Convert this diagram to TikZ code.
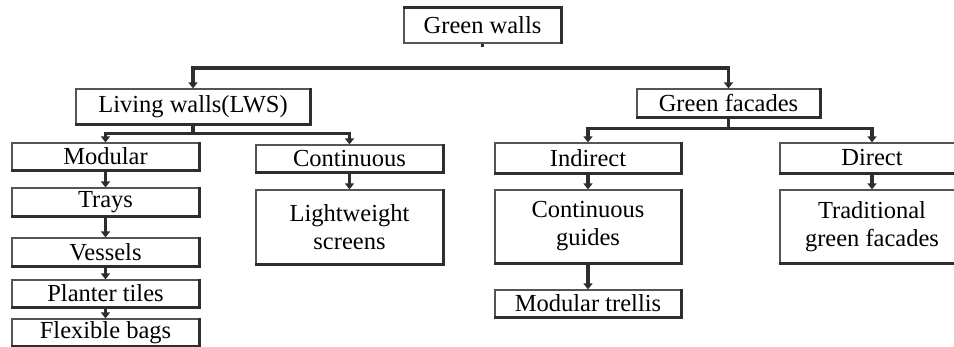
\documentclass[tikz,border=0pt]{standalone}
\usepackage{fontspec}
\setmainfont{Liberation Serif}
\usetikzlibrary{arrows.meta}
\definecolor{ink}{HTML}{2E2E2E}
\definecolor{rule}{HTML}{555555}
\begin{document}
\begin{tikzpicture}[x=1pt,y=-1pt,
  box/.style={draw=rule, line width=1.2pt, inner sep=0pt, align=center,
    font=\fontsize{24.5}{28}\selectfont, text=black},
  heavy/.style={draw=ink, line width=3.6pt},
  conn/.style={draw=ink, line width=3.6pt,
    -{Triangle[width=9pt,length=6pt]}},
  stub/.style={draw=ink, line width=3.6pt}]
\useasboundingbox (0,0) rectangle (954,347);
\clip (0,0) rectangle (954,347);

% top level
\node[box, minimum width=157pt, minimum height=35pt] (gw) at (482.5,25.5) {Green walls};
% second level
\node[box, minimum width=234pt, minimum height=35pt] (lw) at (193,106.5) {Living walls(LWS)};
\node[box, minimum width=183pt, minimum height=28pt] (gf) at (728.5,103) {Green facades};
% living walls branch
\node[box, minimum width=187pt, minimum height=27pt] (mod) at (105.5,156.5) {Modular};
\node[box, minimum width=187pt, minimum height=28pt] (trays) at (105.5,202) {Trays};
\node[box, minimum width=187pt, minimum height=28pt] (vess) at (105.5,252) {Vessels};
\node[box, minimum width=187pt, minimum height=27pt] (plant) at (105.5,293.5) {Planter tiles};
\node[box, minimum width=187pt, minimum height=27pt] (flex) at (105.5,332.5) {Flexible bags};
\node[box, minimum width=187pt, minimum height=27pt] (cont) at (349.5,158.5) {Continuous};
\node[box, minimum width=187pt, minimum height=74pt] (lws) at (349.5,227) {Lightweight\\screens};
% green facades branch
\node[box, minimum width=186pt, minimum height=30pt] (ind) at (588,158) {Indirect};
\node[box, minimum width=186pt, minimum height=73pt] (cg) at (588,226.5) {Continuous\\guides};
\node[box, minimum width=186pt, minimum height=27pt] (mt) at (588,303.5) {Modular trellis};
\node[box, minimum width=184pt, minimum height=30pt] (dir) at (872,158) {Direct};
\node[box, minimum width=184pt, minimum height=73pt] (tgf) at (872,226.5) {Traditional\\green facades};

% heavy shadow edges
\draw[heavy] (gw.north west) -- (gw.north east) -- (gw.south east);
\foreach \n in {lw,gf,mod,trays,vess,plant,flex,cont,lws,ind,cg,mt,dir,tgf}
  \draw[heavy] (\n.south west) -- (\n.south east) -- (\n.north east);

% connectors
\coordinate (hub) at (482,68);
\draw[stub] (gw.south) -- ++(0,3);
\draw[stub] (hub -| lw.north) -- (hub -| gf.north);
\draw[conn] (hub) -| (lw.north);
\draw[conn] (hub) -| (gf.north);

\draw[conn] (lw.south) -- ++(0,9) -| (mod.north);
\draw[conn] (lw.south) -- ++(0,9) -| (cont.north);
\draw[conn] (mod) -- (trays);
\draw[conn] (trays) -- (vess);
\draw[conn] (vess) -- (plant);
\draw[conn] (plant) -- (flex);
\draw[conn] (cont) -- (lws);

\draw[conn] (gf.south) -- ++(0,11) -| (ind.north);
\draw[conn] (gf.south) -- ++(0,11) -| (dir.north);
\draw[conn] (ind) -- (cg);
\draw[conn] (cg) -- (mt);
\draw[conn] (dir) -- (tgf);
\end{tikzpicture}
\end{document}
